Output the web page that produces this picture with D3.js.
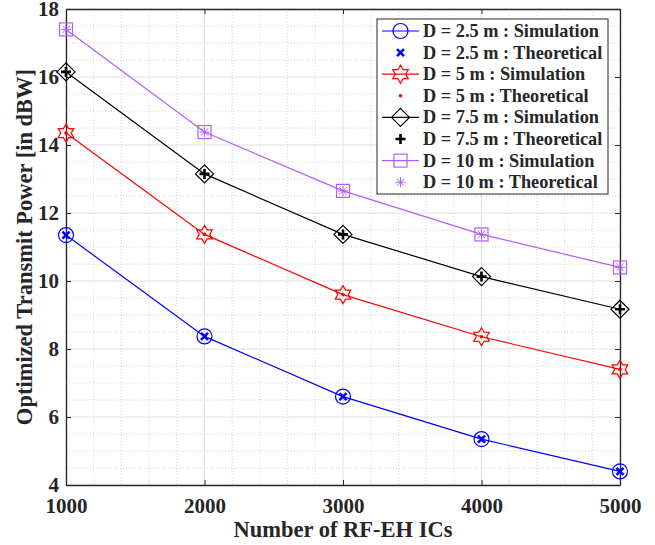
<!DOCTYPE html>
<html>
<head>
<meta charset="utf-8">
<script src="https://cdn.jsdelivr.net/npm/d3@7"></script>
<style>
  body { margin: 0; background: #fff; }
  text { font-family: "Liberation Serif", "Times New Roman", serif; font-weight: bold; fill: #262626; }
</style>
</head>
<body>
<div class="chart"></div>
<script>
// data
const icCounts = [1000, 2000, 3000, 4000, 5000];
const xTicks = [1000, 2000, 3000, 4000, 5000];
const yTicks = [4, 6, 8, 10, 12, 14, 16, 18];
const distances = ['2.5', '5', '7.5', '10'];
const powerD25 = [11.35, 8.37, 6.6, 5.35, 4.4];
const powerD5 = [14.35, 11.37, 9.6, 8.36, 7.4];
const powerD75 = [16.15, 13.15, 11.37, 10.13, 9.17];
const powerD10 = [17.4, 14.38, 12.65, 11.37, 10.4];

const series = [
    { d: distances[0], values: powerD25, color: '#0000ff', sim: 'circle', theo: 'x' },
    { d: distances[1], values: powerD5, color: '#ff0000', sim: 'hexagram', theo: 'dot' },
    { d: distances[2], values: powerD75, color: '#000000', sim: 'diamond', theo: 'plus' },
    { d: distances[3], values: powerD10, color: '#b45cff', sim: 'square', theo: 'asterisk' }
];

const margin = { top: 9, right: 35, bottom: 60, left: 66 };
const width = 655 - margin.left - margin.right;
const height = 545 - margin.top - margin.bottom;

const xScale = d3.scaleLinear().domain([1000, 5000]).range([0, width]);
const yScale = d3.scaleLinear().domain([4, 18]).range([height, 0]);

const svg = d3.select('.chart')
    .append('svg')
    .attr('width', 655)
    .attr('height', 545)
    .append('g')
    .attr('transform', `translate(${margin.left}, ${margin.top})`);

// minor grid (dotted)
const xMinor = d3.range(1000, 5001, 200).filter(v => v % 1000 !== 0);
const yMinor = d3.range(4, 18.01, 0.5).filter(v => v % 2 !== 0);

svg.append('g')
    .selectAll('line')
    .data(xMinor)
    .enter()
    .append('line')
        .attr('x1', d => xScale(d)).attr('x2', d => xScale(d))
        .attr('y1', 0).attr('y2', height)
        .attr('stroke', '#d4d4d4').attr('stroke-width', 1)
        .attr('stroke-dasharray', '1,2');

svg.append('g')
    .selectAll('line')
    .data(yMinor)
    .enter()
    .append('line')
        .attr('y1', d => yScale(d)).attr('y2', d => yScale(d))
        .attr('x1', 0).attr('x2', width)
        .attr('stroke', '#d4d4d4').attr('stroke-width', 1)
        .attr('stroke-dasharray', '1,2');

// major grid
svg.append('g')
    .selectAll('line')
    .data(xTicks)
    .enter()
    .append('line')
        .attr('x1', d => xScale(d)).attr('x2', d => xScale(d))
        .attr('y1', 0).attr('y2', height)
        .attr('stroke', '#e0e0e0').attr('stroke-width', 1);

svg.append('g')
    .selectAll('line')
    .data(yTicks)
    .enter()
    .append('line')
        .attr('y1', d => yScale(d)).attr('y2', d => yScale(d))
        .attr('x1', 0).attr('x2', width)
        .attr('stroke', '#e0e0e0').attr('stroke-width', 1);

// axes (box with inward ticks)
const xAxis = d3.axisBottom(xScale).tickValues(xTicks).tickFormat(d3.format('d')).tickSizeInner(-5).tickSizeOuter(0).tickPadding(13);
const xAxisTop = d3.axisTop(xScale).tickValues(xTicks).tickFormat('').tickSizeInner(-5).tickSizeOuter(0);
const yAxis = d3.axisLeft(yScale).tickValues(yTicks).tickSizeInner(-5).tickSizeOuter(0).tickPadding(7);
const yAxisRight = d3.axisRight(yScale).tickValues(yTicks).tickFormat('').tickSizeInner(-5).tickSizeOuter(0);

function styleAxis(g) {
    g.select('.domain').attr('stroke', '#262626').attr('stroke-width', 1.3);
    g.selectAll('.tick line').attr('stroke', '#262626').attr('stroke-width', 1);
    g.selectAll('text')
        .attr('fill', '#262626')
        .style('font-family', '"Liberation Serif", serif')
        .style('font-weight', 'bold')
        .style('font-size', '21px');
}

svg.append('g').attr('transform', `translate(0, ${height})`).call(xAxis).call(styleAxis);
svg.append('g').call(xAxisTop).call(styleAxis);
svg.append('g').call(yAxis).call(styleAxis);
svg.append('g').attr('transform', `translate(${width}, 0)`).call(yAxisRight).call(styleAxis);

// axis titles
svg.append('text')
    .attr('x', width / 2)
    .attr('y', height + 52)
    .attr('text-anchor', 'middle')
    .attr('font-size', '22.5px')
    .text('Number of RF-EH ICs');

svg.append('text')
    .attr('transform', `translate(${-34}, ${height / 2}) rotate(-90)`)
    .attr('text-anchor', 'middle')
    .attr('font-size', '22.5px')
    .text('Optimized Transmit Power [in dBW]');

// marker drawing
function hexagramPath(r) {
    const pts = [];
    for (let i = 0; i < 12; i++) {
        const a = -Math.PI / 2 + i * Math.PI / 6;
        const rr = i % 2 === 0 ? r : r * 0.58;
        pts.push([rr * Math.cos(a), rr * Math.sin(a)]);
    }
    return 'M' + pts.map(p => p.join(',')).join('L') + 'Z';
}

function drawMarker(g, type, color) {
    if (type === 'circle') {
        g.append('circle').attr('r', 7.5).attr('fill', 'none').attr('stroke', color).attr('stroke-width', 1.2);
    } else if (type === 'hexagram') {
        g.append('path').attr('d', hexagramPath(9)).attr('fill', 'none').attr('stroke', color).attr('stroke-width', 1.2);
    } else if (type === 'diamond') {
        g.append('path').attr('d', 'M0,-9L9,0L0,9L-9,0Z').attr('fill', 'none').attr('stroke', color).attr('stroke-width', 1.2);
    } else if (type === 'square') {
        g.append('rect').attr('x', -6.5).attr('y', -6.5).attr('width', 13).attr('height', 13)
            .attr('fill', 'none').attr('stroke', color).attr('stroke-width', 1.2);
    } else if (type === 'x') {
        g.append('path').attr('d', 'M-3.5,-3.5L3.5,3.5M-3.5,3.5L3.5,-3.5').attr('stroke', color).attr('stroke-width', 2.6);
    } else if (type === 'dot') {
        g.append('circle').attr('r', 1.8).attr('fill', color);
    } else if (type === 'plus') {
        g.append('path').attr('d', 'M-5,0L5,0M0,-5L0,5').attr('stroke', color).attr('stroke-width', 2.6);
    } else if (type === 'asterisk') {
        g.append('path').attr('d', 'M-5,0L5,0M0,-5L0,5M-3.6,-3.6L3.6,3.6M-3.6,3.6L3.6,-3.6').attr('stroke', color).attr('stroke-width', 1);
    }
}

// lines and markers
const line = d3.line()
    .x((d, i) => xScale(icCounts[i]))
    .y(d => yScale(d));

series.forEach(s => {
    svg.append('path')
        .datum(s.values)
        .attr('d', line)
        .attr('fill', 'none')
        .attr('stroke', s.color)
        .attr('stroke-width', 1.2);

    s.values.forEach((v, i) => {
        const g = svg.append('g').attr('transform', `translate(${xScale(icCounts[i])}, ${yScale(v)})`);
        drawMarker(g, s.sim, s.color);
    });
    s.values.forEach((v, i) => {
        const g = svg.append('g').attr('transform', `translate(${xScale(icCounts[i])}, ${yScale(v)})`);
        drawMarker(g, s.theo, s.color);
    });
});

// legend
const legendEntries = [];
series.forEach(s => {
    legendEntries.push({ label: `D = ${s.d} m : Simulation`, color: s.color, marker: s.sim, line: true });
    legendEntries.push({ label: `D = ${s.d} m : Theoretical`, color: s.color, marker: s.theo, line: false });
});

const legend = svg.append('g').attr('transform', `translate(${377 - margin.left}, ${19 - margin.top})`);
legend.append('rect')
    .attr('width', 231)
    .attr('height', 175)
    .attr('fill', '#fff')
    .attr('stroke', '#262626')
    .attr('stroke-width', 1);

legendEntries.forEach((e, i) => {
    const row = legend.append('g').attr('transform', `translate(0, ${12 + i * 21.6})`);
    if (e.line) {
        row.append('line').attr('x1', 5).attr('x2', 42).attr('y1', 0).attr('y2', 0)
            .attr('stroke', e.color).attr('stroke-width', 1.2);
    }
    drawMarker(row.append('g').attr('transform', 'translate(23.5, 0)'), e.marker, e.color);
    row.append('text')
        .attr('x', 46)
        .attr('y', 6)
        .attr('font-size', '18.3px')
        .attr('fill', '#000')
        .text(e.label);
});
</script>
</body>
</html>
